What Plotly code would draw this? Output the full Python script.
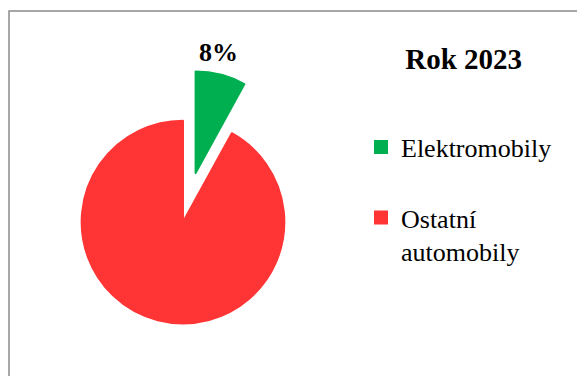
import plotly.graph_objects as go

# Share of new cars in 2023
categories = ["Elektromobily", "Ostatní<br>automobily"]
shares = [8, 92]
colors = ["#00B050", "#FF3535"]
title_text = "Rok 2023"

SERIF = "Liberation Serif"

# Only the electric-car slice is pulled out and labelled
pulls = [0.5, 0.0]
label_for_first = f"{shares[0] / sum(shares) * 100:.0f}%"

# Legend entries; the first gets a spare line so the entries sit further apart
legend_labels = [categories[0] + "<br> ", categories[1]]

fig = go.Figure(
    go.Pie(
        labels=legend_labels,
        values=shares,
        marker=dict(colors=colors, line=dict(color=colors, width=2)),
        pull=pulls,
        sort=False,
        direction="clockwise",
        rotation=0,
        textinfo="none",
        hoverinfo="label+percent",
        domain=dict(x=[0.0537, 0.5806], y=[0.0053, 0.8138]),
    )
)

# Percentage label above the pulled slice
fig.add_annotation(
    text=f"<b>{label_for_first}</b>",
    xref="paper", yref="paper",
    x=218 / 577, y=1 - 52 / 376,
    xanchor="center", yanchor="middle",
    showarrow=False,
    font=dict(family=SERIF, size=26, color="black"),
)

# Chart frame
fig.add_shape(
    type="rect", xref="paper", yref="paper",
    x0=9 / 577, x1=1.05, y0=-0.05, y1=1 - 11 / 376,
    line=dict(color="#8a8a8a", width=1.5),
    fillcolor="rgba(0,0,0,0)",
    layer="below",
)

fig.update_layout(
    width=577,
    height=376,
    margin=dict(l=0, r=0, t=0, b=0),
    paper_bgcolor="white",
    plot_bgcolor="white",
    font=dict(family=SERIF, color="black"),
    title=dict(
        text=f"<b>{title_text}</b>",
        x=463.7 / 577, xanchor="center",
        xref="paper", yref="container",
        y=1 - 69 / 376, yanchor="bottom",
        font=dict(family=SERIF, size=29, color="black"),
    ),
    showlegend=True,
    legend=dict(
        x=361 / 577, xanchor="left",
        y=1 - 123.5 / 376, yanchor="top",
        font=dict(family=SERIF, size=26, color="black"),
        valign="top",
        bgcolor="rgba(0,0,0,0)",
        traceorder="normal",
    ),
)

fig.write_html("out.html")
